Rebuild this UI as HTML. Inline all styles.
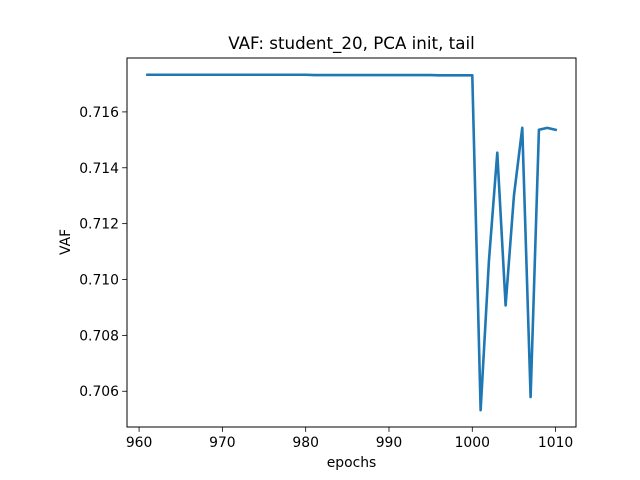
<!DOCTYPE html>
<html><head><meta charset="utf-8"><style>
body{margin:0;background:#fff}
svg{display:block;font-family:"DejaVu Sans","Liberation Sans",sans-serif}
</style></head><body>
<svg id="chart" width="640" height="480">
<rect width="640" height="480" fill="#fff"/>
<text x="351.5" y="49" font-size="16.7" text-anchor="middle">VAF: student_20, PCA init, tail</text>
<g id="plot"></g>
<text x="351.5" y="467" font-size="13.9" text-anchor="middle">epochs</text>
<text x="0" y="0" font-size="13.9" text-anchor="middle" transform="translate(70,242) rotate(-90)">VAF</text>
<rect x="127" y="58" width="449" height="369" fill="none" stroke="#000" stroke-width="1"/>
</svg>
<script>
const epochs = [];
for (let e = 961; e <= 1010; e++) epochs.push(e);
const vaf = [
0.71733,0.71733,0.71733,0.71733,0.71733,0.71733,0.71733,0.71733,0.71733,0.71733,
0.71733,0.71733,0.71733,0.71733,0.71733,0.71733,0.71733,0.71733,0.71733,0.71733,
0.71732,0.71732,0.71732,0.71732,0.71732,0.71732,0.71732,0.71732,0.71732,0.71732,
0.71732,0.71732,0.71732,0.71732,0.71732,0.71731,0.71731,0.71731,0.71731,0.71731,
0.70532,0.71068,0.71454,0.70907,0.7130,0.71543,0.70579,0.71536,0.71543,0.71536];
const xTicks = [960,970,980,990,1000,1010];
const yTicks = [0.706,0.708,0.710,0.712,0.714,0.716];
const xTickLabels = ["960","970","980","990","1000","1010"];
const yTickLabels = ["0.706","0.708","0.710","0.712","0.714","0.716"];

const L=127,R=576,T=58,B=427;
const xmin=958.55,xmax=1012.45,ymin=0.70472,ymax=0.71793;
const sx=v=>L+(v-xmin)/(xmax-xmin)*(R-L);
const sy=v=>B-(v-ymin)/(ymax-ymin)*(B-T);
const NS='http://www.w3.org/2000/svg';
const g=document.getElementById('plot');
function mk(t,a){const e=document.createElementNS(NS,t);for(const k in a)e.setAttribute(k,a[k]);g.appendChild(e);return e;}
xTicks.forEach((v,i)=>{
  const l=mk('line',{x1:sx(v),x2:sx(v),y1:B,y2:B+4.9,stroke:'#000','stroke-width':0.8});
  
  
  const t=mk('text',{x:sx(v),y:B+20,'font-size':13.9,'text-anchor':'middle'});
  t.textContent=xTickLabels[i];
  
  
});
yTicks.forEach((v,i)=>{
  const l=mk('line',{x1:L-4.9,x2:L,y1:sy(v),y2:sy(v),stroke:'#000','stroke-width':0.8});
  
  
  const t=mk('text',{x:L-8,y:sy(v)+5,'font-size':13.9,'text-anchor':'end'});
  t.textContent=yTickLabels[i];
  
  
});
const p=mk('polyline',{points:epochs.map((e,i)=>sx(e)+','+sy(vaf[i])).join(' '),fill:'none',stroke:'#1f77b4','stroke-width':2.6,'stroke-linejoin':'round','stroke-linecap':'square'});


</script>
</body></html>
